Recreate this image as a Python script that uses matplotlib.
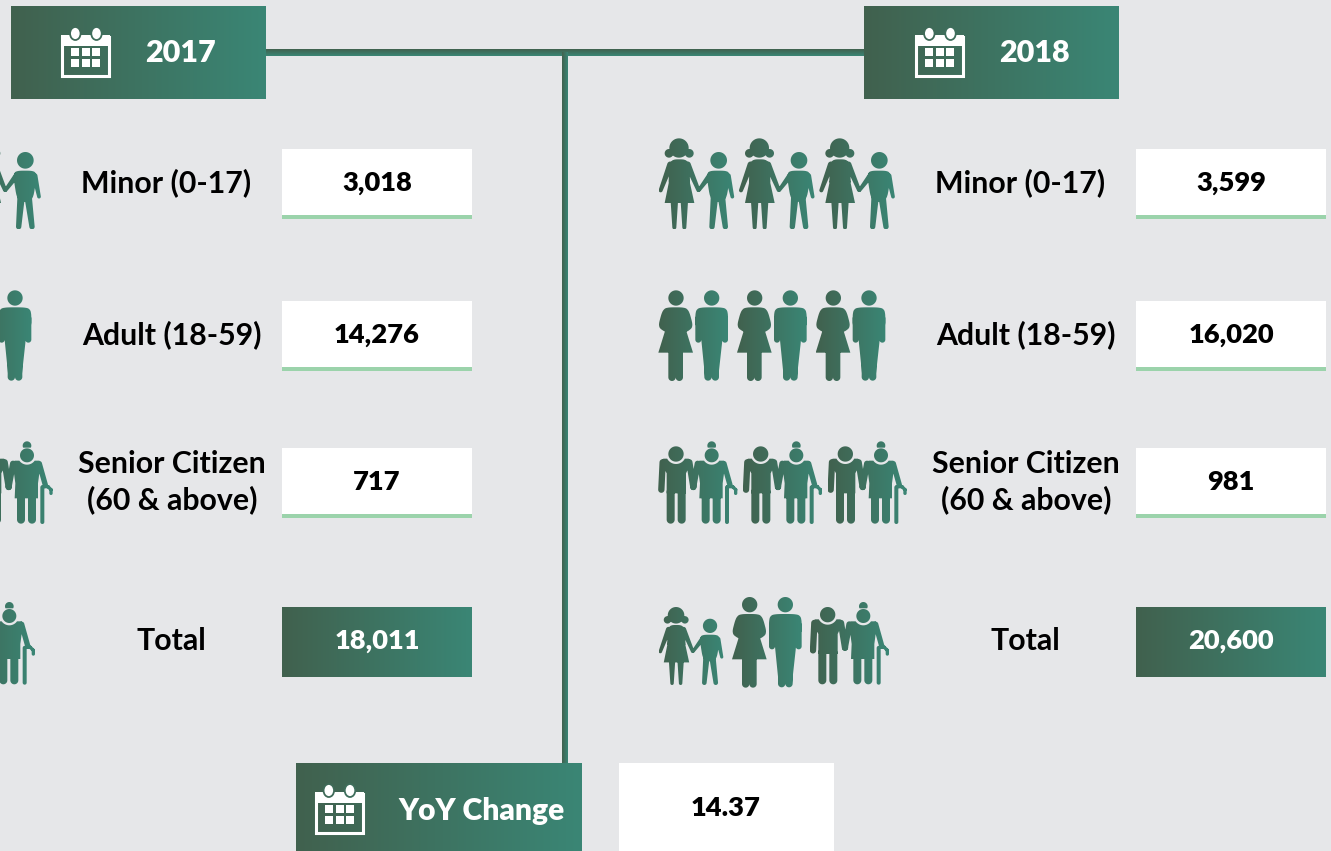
import numpy as np
import matplotlib
matplotlib.use("Agg")
import matplotlib.pyplot as plt
from matplotlib.path import Path
from matplotlib.patches import Rectangle, Ellipse
from matplotlib.colors import to_rgb

years = ["2017", "2018"]
categories = ["Minor (0-17)", "Adult (18-59)", "Senior Citizen\n(60 & above)", "Total"]
values_2017 = [3018, 14276, 717, 18011]
values_2018 = [3599, 16020, 981, 20600]
yoy_label = "YoY Change"
yoy_value = "14.37"

BG = "#E6E7E9"
DARK = "#41614E"
LIGHT = "#3A8675"
ACCENT = "#9BD3AB"
plt.rcParams["font.family"] = "Lato"

fig = plt.figure(figsize=(13.31, 8.51), dpi=100, facecolor=BG)
ax = fig.add_axes([0, 0, 1, 1])
ax.set_axis_off()


def grad(n=128, vertical=False):
    a, b = np.array(to_rgb(DARK)), np.array(to_rgb(LIGHT))
    t = np.linspace(0, 1, n)[:, None]
    g = a + (b - a) * t
    return g[:, None, :] if vertical else g[None, :, :]


def grad_rect(x0, y0, x1, y1, vertical=False, z=2):
    ax.imshow(grad(vertical=vertical), extent=(x0, x1, y1, y0), origin="upper",
              aspect="auto", interpolation="bilinear", zorder=z)


def grad_col(t):
    a, b = np.array(to_rgb(DARK)), np.array(to_rgb(LIGHT))
    return a + (b - a) * t


def circle(cx, cy, r, n=48):
    a = np.linspace(0, 2 * np.pi, n, endpoint=False)
    return np.c_[cx + r * np.cos(a), cy + r * np.sin(a)]


def capsule(p1, p2, w1, w2=None):
    w2 = w1 if w2 is None else w2
    p1, p2 = np.array(p1, float), np.array(p2, float)
    th = np.arctan2(*(p2 - p1)[::-1])
    a2 = np.linspace(th - np.pi / 2, th + np.pi / 2, 14)
    a1 = np.linspace(th + np.pi / 2, th + 3 * np.pi / 2, 14)
    return np.vstack([p2 + w2 / 2 * np.c_[np.cos(a2), np.sin(a2)],
                      p1 + w1 / 2 * np.c_[np.cos(a1), np.sin(a1)]])


def chaikin(pts, it=3):
    p = np.array(pts, float)
    for _ in range(it):
        q = np.roll(p, -1, axis=0)
        out = np.empty((2 * len(p), 2))
        out[0::2] = 0.8 * p + 0.2 * q
        out[1::2] = 0.2 * p + 0.8 * q
        p = out
    return p


def arc(cx, cy, r, y_cut, n=24):
    dx = np.sqrt(r ** 2 - (y_cut - cy) ** 2)
    a0 = np.arctan2(y_cut - cy, -dx)
    a1 = np.arctan2(y_cut - cy, dx)
    if a0 < a1:
        a0 += 2 * np.pi
    a = np.linspace(a0, a1, n)
    return np.c_[cx + r * np.cos(a), cy + r * np.sin(a)]


def girl_child():
    return [
        circle(87, 54, 29), circle(57, 70, 13), circle(118, 70, 13),
        chaikin([(68, 88), (107, 88), (118, 104), (120, 150), (120, 160), (56, 160), (56, 150), (58, 104)]),
        np.array([(58, 150.), (118, 150), (133, 219), (44, 219)]),
        capsule((61, 104), (32, 181), 19, 12), capsule((113, 104), (145, 180), 19, 12),
        capsule((73, 215), (73, 292), 22, 12), capsule((103, 215), (103, 292), 22, 12),
        circle(206, 91, 25),
        chaikin([(176, 122), (234, 122), (240, 140), (228, 215), (182, 215), (170, 140)]),
        capsule((180, 136), (147, 180), 17, 11), capsule((234, 138), (247, 200), 17, 11),
        capsule((193, 205), (186, 290), 22, 16), capsule((215, 205), (226, 290), 22, 16),
    ]


def adults():
    return [
        circle(78, 504, 23),
        chaikin([(48, 532), (106, 532), (118, 545), (130, 591), (108, 608), (48, 608), (24, 591), (36, 545)]),
        np.array([(46., 600), (108, 600), (129, 668), (25, 668)]),
        capsule((66, 660), (66, 742), 22), capsule((88, 660), (88, 742), 22),
        circle(185, 504, 23),
        chaikin([(148, 532), (222, 532), (234, 544), (234, 600), (136, 600), (136, 544)], 3),
        capsule((145, 565), (145, 629), 18), capsule((225, 565), (225, 629), 18),
        np.array([(150., 590), (220, 590), (216, 640), (205, 740), (165, 740), (155, 640)]),
        capsule((175, 640), (174, 741), 22), capsule((195, 640), (196, 741), 22),
    ]


def seniors():
    man_top = arc(78, 72, 30, 86)
    wom_top = arc(185, 76, 28, 92)
    bun = circle(185, 47, 13)
    bun[:, 1] = np.minimum(bun[:, 1], 53)
    return [
        circle(78, 72, 23),
        np.vstack([[(40, 86)], man_top, [(116, 86), (124, 96), (108, 130), (108, 190), (50, 190), (50, 130), (32, 96)]]),
        capsule((38, 97), (34, 179), 19), capsule((118, 97), (130, 171), 19),
        capsule((62, 185), (62, 269), 24), capsule((95, 185), (95, 269), 24),
        circle(185, 76, 21), bun,
        np.vstack([[(148, 92)], wom_top, [(222, 92), (226, 100), (218, 160), (218, 205), (148, 205), (150, 160), (142, 100)]]),
        capsule((143, 101), (130, 171), 18), capsule((222, 101), (240, 165), 16),
        capsule((167, 198), (167, 269), 24), capsule((200, 198), (200, 269), 24),
        capsule((231, 172), (231, 276), 12),
        capsule((233, 170), (248, 170), 10), capsule((248, 170), (257, 179), 10), capsule((257, 179), (257, 190), 10),
    ]


def draw_pair(polys, ox, oy, dx=0, dy=0, s=1.0, ax0=0, ay0=0):
    paths, xs = [], []
    for p in polys:
        q = p.copy()
        q[:, 0] = ox + (ax0 + (q[:, 0] - ax0) * s + dx) / 3
        q[:, 1] = oy + (ay0 + (q[:, 1] - ay0) * s + dy) / 3
        area = 0.5 * np.sum(q[:, 0] * np.roll(q[:, 1], -1) - np.roll(q[:, 0], -1) * q[:, 1])
        if area < 0:
            q = q[::-1]
        paths.append(Path(np.vstack([q, q[0]]), closed=True))
        xs.append(q)
    xs = np.vstack(xs)
    x0, x1, y0, y1 = xs[:, 0].min(), xs[:, 0].max(), xs[:, 1].min(), xs[:, 1].max()
    im = ax.imshow(grad(), extent=(x0, x1, y1, y0), origin="upper", aspect="auto",
                   interpolation="bilinear", zorder=3)
    im.set_clip_path(Path.make_compound_path(*paths), transform=ax.transData)


def draw_icons(shift):
    ox = 650 + shift
    for k in range(3):
        draw_pair(girl_child(), ox, 130, dx=241 * k)
        draw_pair(adults(), ox, 130, dx=236 * k)
        draw_pair(seniors(), ox, 430, dx=254 * k)
    draw_pair(girl_child(), ox, 430, dy=506, s=0.857, ax0=25, ay0=25)
    draw_pair(adults(), ox, 430, dx=221, dy=20)
    draw_pair(seniors(), ox, 430, dx=455, dy=482)


def calendar(x, y):
    ax.add_patch(Rectangle((x + 1, y + 8.5), 47, 39, fc="none", ec="white", lw=2.2, zorder=5))
    ax.add_patch(Rectangle((x, y + 7), 49, 11, fc="white", ec="none", zorder=5))
    for cx, t in [(14.3, 0.25), (35.5, 0.35)]:
        ax.add_patch(Ellipse((x + cx, y + 5.5), 10.5, 13, fc="white", ec=grad_col(t), lw=1.3, zorder=6))
    for cy in (20, 31):
        for cx in (10, 21, 31):
            ax.add_patch(Rectangle((x + cx, y + cy), 8.3, 8, fc="white", ec="none", zorder=5))


grad_rect(266, 49, 864, 56, vertical=True, z=1)
grad_rect(562, 52, 568, 763, vertical=False, z=1)

row_y = [182, 334, 481, 640]
label_x = [166.5, 171.5, 172, 171.5]
for year, values, shift in zip(years, [values_2017, values_2018], [0, 854]):
    grad_rect(11 + shift - (1 if shift else 0), 6, 266 + shift - (1 if shift else 0), 99)
    calendar(61 + shift, 28)
    ax.text(181 + shift - (1 if shift else 0), 53.5, year, color="white", fontsize=22, fontweight=800,
            ha="center", va="center", zorder=6)
    for i, (cat, val, yc) in enumerate(zip(categories, values, row_y)):
        ax.text(label_x[i] + shift, yc + 1, cat, color="black", fontsize=21.8, fontweight=700,
                ha="center", va="center", linespacing=1.33, zorder=6)
        top = yc - 33
        if i < 3:
            ax.add_patch(Rectangle((282 + shift, top), 190, 70, fc="white", ec="none", zorder=2))
            ax.add_patch(Rectangle((282 + shift, top + 66), 190, 4, fc=ACCENT, ec="none", zorder=3))
            col = "black"
        else:
            grad_rect(282 + shift, top, 472 + shift, top + 70)
            col = "white"
        ax.text(377 + shift, yc + 1, f"{val:,}", color=col, fontsize=19.6, fontweight=800,
                ha="center", va="center", zorder=6)

draw_icons(-854)
draw_icons(0)

grad_rect(296, 763, 582, 851)
calendar(314.5, 785)
ax.text(481.5, 811, yoy_label, color="white", fontsize=21.6, fontweight=800,
        ha="center", va="center", zorder=6)
ax.add_patch(Rectangle((619, 763), 215, 88, fc="white", ec="none", zorder=2))
ax.text(726, 808, yoy_value, color="black", fontsize=19.6, fontweight=800,
        ha="center", va="center", zorder=6)

ax.set_xlim(0, 1331)
ax.set_ylim(851, 0)
fig.savefig("out.png", dpi=100, facecolor=BG)
